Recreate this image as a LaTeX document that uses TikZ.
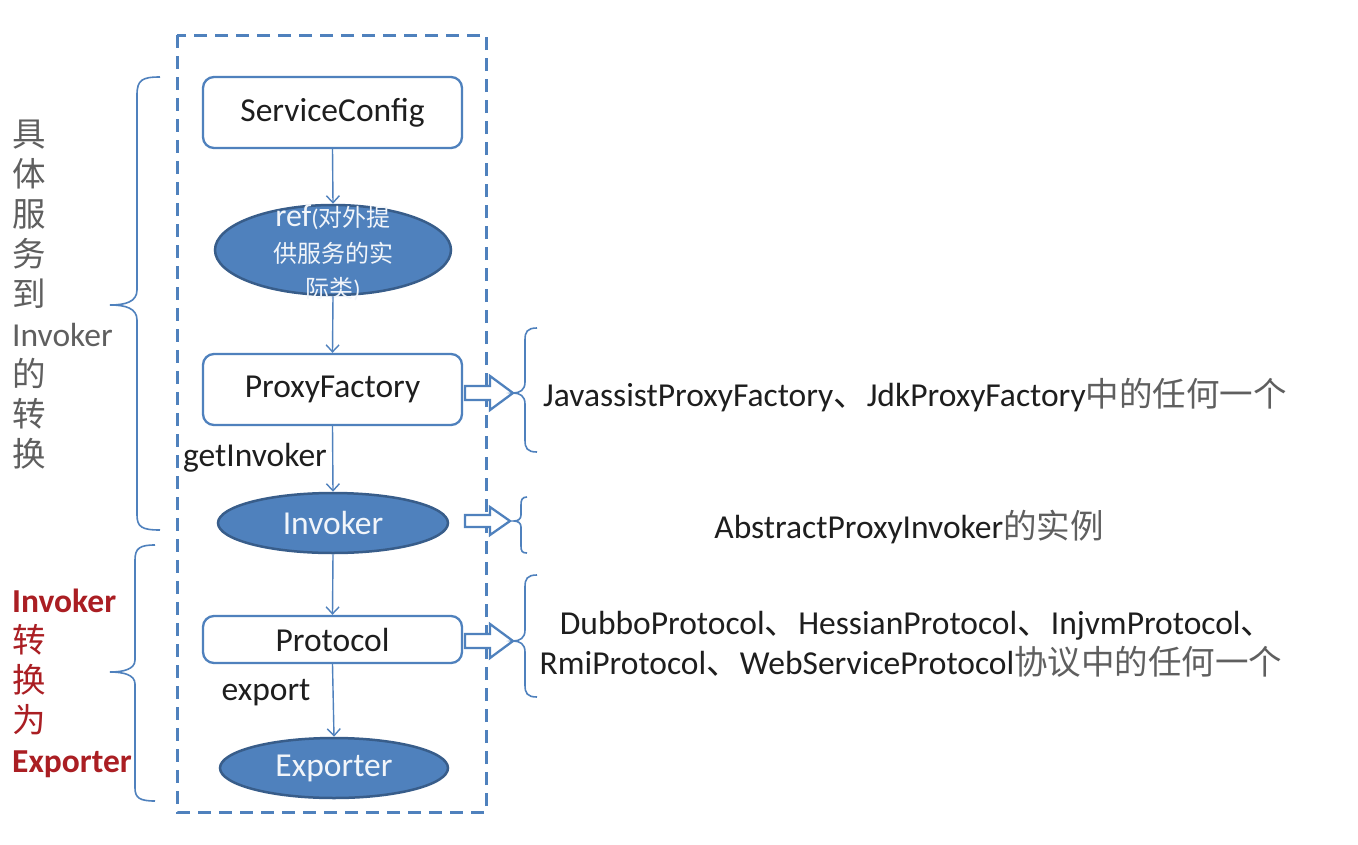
\documentclass[tikz,border=0pt]{standalone}
\usepackage{fontspec}
\setmainfont{Carlito}
\newfontfamily\cjk{Noto Sans CJK SC}
\usetikzlibrary{shapes.geometric,arrows.meta}
\definecolor{bl}{RGB}{79,129,189}
\definecolor{dbl}{RGB}{56,93,138}
\definecolor{txt}{RGB}{30,30,30}
\definecolor{gr}{RGB}{95,95,95}
\definecolor{rd}{RGB}{170,30,35}
\newcommand{\zh}[1]{{\cjk\color{gr}#1}}
\begin{document}
\begin{tikzpicture}[x=1pt,y=-1pt,
  font=\fontsize{33.5}{40}\selectfont,
  box/.style={draw=bl, line width=2.3pt, rounded corners=11pt, fill=white, text=txt, inner sep=0pt},
  ell/.style={ellipse, draw=dbl, line width=2.5pt, fill=bl, inner sep=0pt},
  conn/.style={draw=bl, line width=1.4pt, -{Straight Barb[length=7pt,width=13pt]}},
  brc/.style={draw=bl, line width=1.6pt},
  hollow/.style={draw=bl, line width=2.3pt, fill=white, line join=miter},
  lbl/.style={text=txt, inner sep=0pt}]
\useasboundingbox[fill=white] (0,0) rectangle (1358,844);

% dashed frame
\draw[bl, line width=3pt, dash pattern=on 13pt off 8pt] (177,35) rectangle (486,812);

% main column
\node[box, minimum width=259pt, minimum height=71pt] (sc) at (332.5,112.5) {ServiceConfig};
\node[ell, minimum width=236pt, minimum height=90pt] (ref) at (333,250) {};
\node[text=white!92!bl, align=center, inner sep=0pt] (reft) at (333,253)
  {{\fontsize{32}{34}\selectfont ref}{\fontsize{24}{30}\selectfont(\cjk 对外提}\\[-4pt]
   {\cjk\fontsize{24}{30}\selectfont 供服务的实}\\[-5pt]
   {\fontsize{24}{30}\selectfont\cjk 际类\normalfont)}};
\node[box, minimum width=259pt, minimum height=71pt] (pf) at (332.5,389.5) {ProxyFactory};
\node[ell, minimum width=230pt, minimum height=60pt, text=white!92!bl] (inv) at (333,523) {Invoker};
\node[box, minimum width=259pt, minimum height=47pt] (proto) at (332.5,639.5) {Protocol};
\node[ell, minimum width=228pt, minimum height=60pt, text=white!92!bl] (exp) at (334,768) {Exporter};

\draw[conn] (sc.south) -- (ref.north);
\draw[conn] (ref.south) -- (pf.north);
\draw[conn] (pf.south) -- (inv.north);
\draw[conn] (inv.south) -- (proto.north);
\draw[conn] (proto.south) -- (exp.north);

\node[lbl] (gi) at (255,458) {getInvoker};
\node[lbl] (ex) at (266,693) {export};

% left braces
\draw[brc] (160,77) .. controls (142,77) and (137,80) .. (137,95) -- (137,290)
  .. controls (137,302) and (125,305) .. (110,305) .. controls (125,305) and (137,308) .. (137,320)
  -- (137,515) .. controls (137,527) and (142,530) .. (160,530);
\draw[brc] (155,545) .. controls (140,545) and (135,548) .. (135,560) -- (135,660)
  .. controls (135,669) and (124,672) .. (110,672) .. controls (124,672) and (135,675) .. (135,684)
  -- (135,788) .. controls (135,798) and (140,801) .. (155,801);

% left texts
\node[anchor=west, align=left, inner sep=0pt, text=gr] (lt1) at (12,295)
  {\cjk 具\\\cjk 体\\\cjk 服\\\cjk 务\\\cjk 到\\Invoker\\\cjk 的\\\cjk 转\\\cjk 换};
\node[anchor=west, align=left, inner sep=0pt, text=rd] (lt2) at (12,683)
  {\bfseries Invoker\\\cjk 转\\\cjk 换\\\cjk 为\\\bfseries Exporter};

% hollow arrows
\draw[hollow] (465,386) -- (490,386) -- (490,376) -- (513,393) -- (490,410) -- (490,400) -- (465,400) -- cycle;
\draw[hollow] (465,515) -- (490,515) -- (490,507) -- (510,521) -- (490,535) -- (490,527) -- (465,527) -- cycle;
\draw[hollow] (465,634) -- (490,634) -- (490,624) -- (513,641) -- (490,658) -- (490,648) -- (465,648) -- cycle;

% right braces
\draw[brc] (537,328) .. controls (527,328) and (525,332) .. (525,340) -- (525,382)
  .. controls (525,390) and (520,393) .. (513,393) .. controls (520,393) and (525,396) .. (525,404)
  -- (525,440) .. controls (525,448) and (527,452) .. (537,452);
\draw[brc] (527,497) .. controls (522,497) and (521,500) .. (521,505) -- (521,515)
  .. controls (521,519) and (518,521) .. (514,521) .. controls (518,521) and (521,523) .. (521,527)
  -- (521,546) .. controls (521,551) and (522,553) .. (527,553);
\draw[brc] (537,575) .. controls (527,575) and (525,579) .. (525,587) -- (525,630)
  .. controls (525,638) and (520,641) .. (513,641) .. controls (520,641) and (525,644) .. (525,652)
  -- (525,685) .. controls (525,693) and (527,697) .. (537,697);

% right texts
\node[lbl, anchor=west] (r1) at (543,395) {JavassistProxyFactory{\cjk 、}JdkProxyFactory\zh{中的任何一个}};
\node[lbl] (r2) at (909,527) {AbstractProxyInvoker\zh{的实例}};
\node[lbl, align=center] (r3) at (911,644)
  {\hspace*{12pt}DubboProtocol{\cjk 、}HessianProtocol{\cjk 、}InjvmProtocol{\cjk 、}\\RmiProtocol{\cjk 、}WebServiceProtocol\zh{协议中的任何一个}};
\end{tikzpicture}
\end{document}
